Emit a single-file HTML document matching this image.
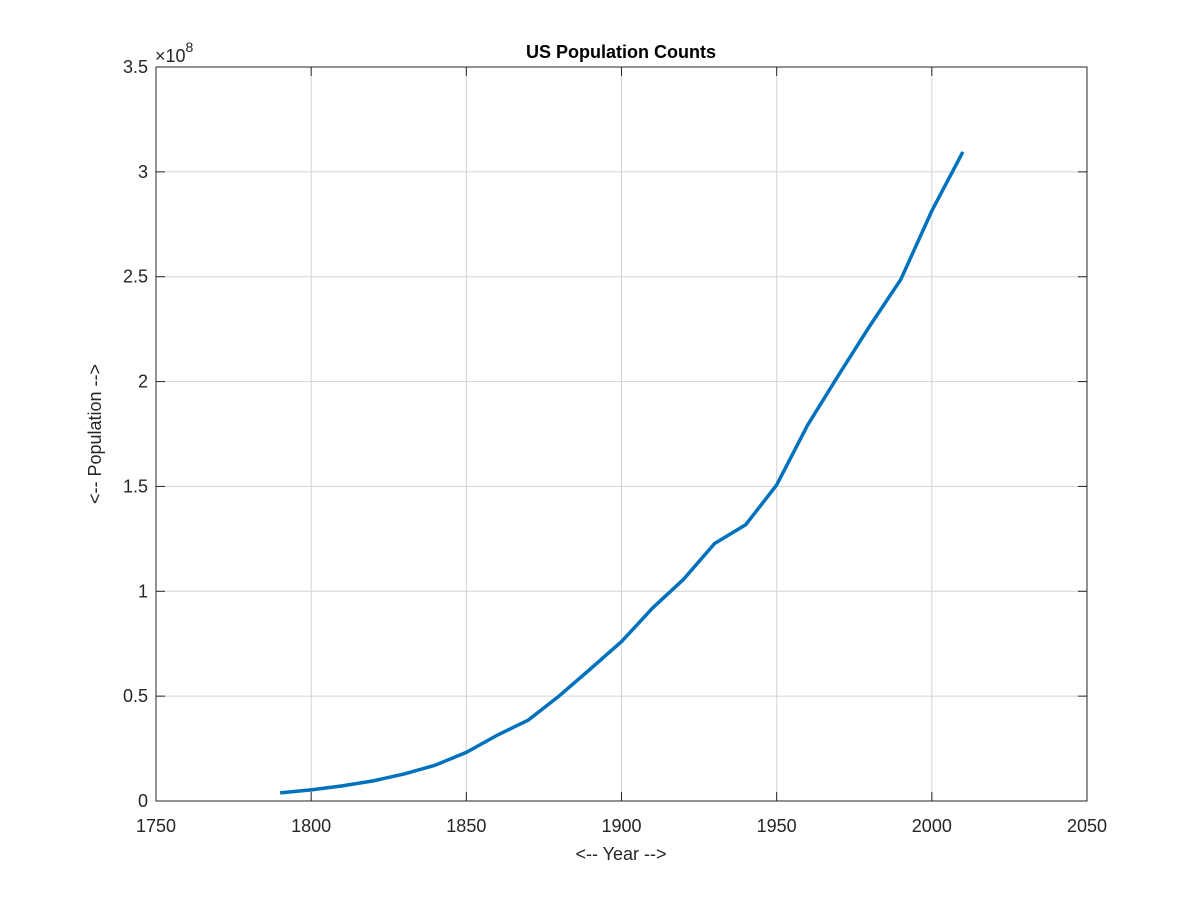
<!DOCTYPE html>
<html><head><meta charset="utf-8"><style>
html,body{margin:0;padding:0;background:#fff;}
svg{display:block;font-family:"Liberation Sans",sans-serif;}
</style></head><body>
<svg id="chart" width="1200" height="900" viewBox="0 0 1200 900" xmlns="http://www.w3.org/2000/svg">
<rect width="1200" height="900" fill="#fff"/>
<g id="grid"></g>
<g id="ticks"></g>
<g id="series"></g>
<rect x="156" y="67" width="931" height="734" fill="none" stroke="#262626" stroke-width="1"/>
<text x="621" y="58" text-anchor="middle" font-size="18" font-weight="bold" fill="#000">US Population Counts</text>
<text x="621" y="860" text-anchor="middle" font-size="18" fill="#262626">&lt;-- Year --&gt;</text>
<text transform="translate(101,434) rotate(-90)" text-anchor="middle" font-size="18" fill="#262626">&lt;-- Population --&gt;</text>
<text x="155" y="62" font-size="18" fill="#262626">×10<tspan dy="-10" font-size="14">8</tspan></text>
</svg>
<script>
const years=[1790,1800,1810,1820,1830,1840,1850,1860,1870,1880,1890,1900,1910,1920,1930,1940,1950,1960,1970,1980,1990,2000,2010];
const population=[3.9,5.3,7.2,9.6,12.9,17.1,23.2,31.4,38.6,50.2,63.0,76.0,92.0,105.7,122.8,131.7,150.7,179.3,203.2,226.5,248.7,281.4,309.5];
const xTicks=[1750,1800,1850,1900,1950,2000,2050];
const yTicks=[0,0.5,1,1.5,2,2.5,3,3.5];
const yTickLabels=["0","0.5","1","1.5","2","2.5","3","3.5"];
const NS="http://www.w3.org/2000/svg";
const X0=156,X1=1087,Y0=801,Y1=67;
function xs(v){return X0+(v-1750)/300*(X1-X0);}
function ys(v){return Y0-v/3.5*(Y0-Y1);}
function mk(t,a,p){const e=document.createElementNS(NS,t);for(const k in a)e.setAttribute(k,a[k]);p.appendChild(e);return e;}
const grid=document.getElementById('grid'),ticks=document.getElementById('ticks'),series=document.getElementById('series');
xTicks.forEach(v=>{const x=xs(v);
 if(v>1750&&v<2050){const g=mk('line',{x1:x,x2:x,y1:Y1,y2:Y0,stroke:'#d4d4d4','stroke-width':1},grid);
 
 }
 mk('line',{x1:x,x2:x,y1:Y0,y2:Y0-9,stroke:'#262626'},ticks);
 mk('line',{x1:x,x2:x,y1:Y1,y2:Y1+9,stroke:'#262626'},ticks);
 const t=mk('text',{x:x,y:Y0+31,'text-anchor':'middle','font-size':18,fill:'#262626'},ticks);t.textContent=v;
 
 
});
yTicks.forEach((v,i)=>{const y=ys(v);
 if(v>0&&v<3.5){const g=mk('line',{x1:X0,x2:X1,y1:y,y2:y,stroke:'#d4d4d4','stroke-width':1},grid);
 
 }
 mk('line',{x1:X0,x2:X0+9,y1:y,y2:y,stroke:'#262626'},ticks);
 mk('line',{x1:X1,x2:X1-9,y1:y,y2:y,stroke:'#262626'},ticks);
 const t=mk('text',{x:X0-8,y:y+6,'text-anchor':'end','font-size':18,fill:'#262626'},ticks);t.textContent=yTickLabels[i];
 
 
});
const pts=years.map((y,i)=>xs(y)+','+ys(population[i]/100)).join(' ');
const line=mk('polyline',{points:pts,fill:'none',stroke:'#0072bd','stroke-width':3.5,'stroke-linejoin':'round'},series);


</script>
</body></html>
